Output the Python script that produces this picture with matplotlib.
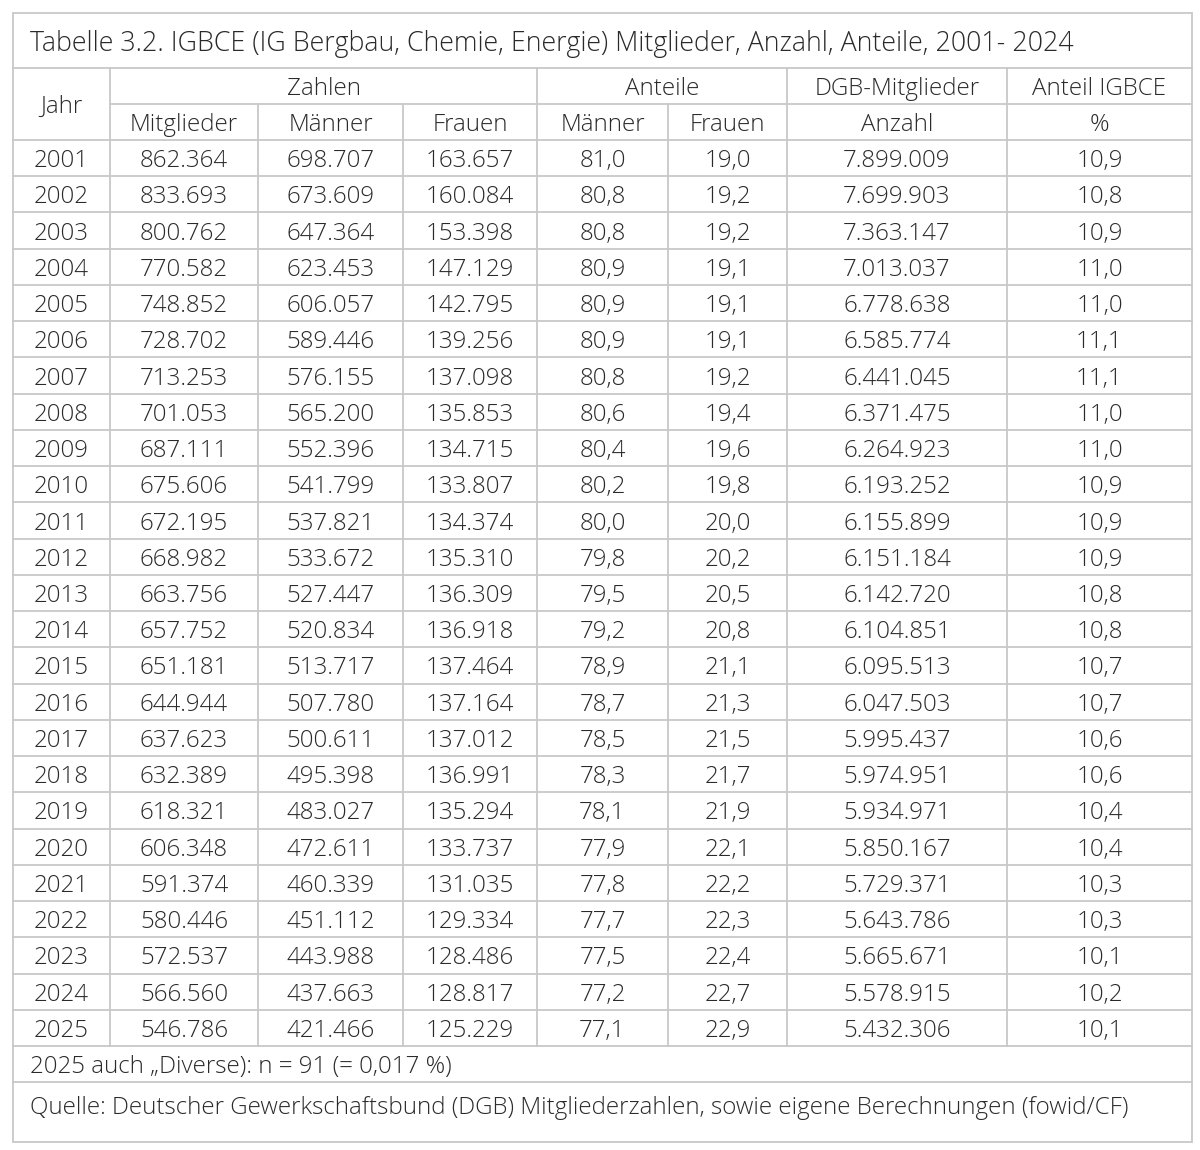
import matplotlib
matplotlib.use("Agg")
import matplotlib.pyplot as plt

years = list(range(2001, 2026))
mitglieder = ["862.364","833.693","800.762","770.582","748.852","728.702","713.253","701.053","687.111","675.606","672.195","668.982","663.756","657.752","651.181","644.944","637.623","632.389","618.321","606.348","591.374","580.446","572.537","566.560","546.786"]
maenner = ["698.707","673.609","647.364","623.453","606.057","589.446","576.155","565.200","552.396","541.799","537.821","533.672","527.447","520.834","513.717","507.780","500.611","495.398","483.027","472.611","460.339","451.112","443.988","437.663","421.466"]
frauen = ["163.657","160.084","153.398","147.129","142.795","139.256","137.098","135.853","134.715","133.807","134.374","135.310","136.309","136.918","137.464","137.164","137.012","136.991","135.294","133.737","131.035","129.334","128.486","128.817","125.229"]
anteil_m = ["81,0","80,8","80,8","80,9","80,9","80,9","80,8","80,6","80,4","80,2","80,0","79,8","79,5","79,2","78,9","78,7","78,5","78,3","78,1","77,9","77,8","77,7","77,5","77,2","77,1"]
anteil_f = ["19,0","19,2","19,2","19,1","19,1","19,1","19,2","19,4","19,6","19,8","20,0","20,2","20,5","20,8","21,1","21,3","21,5","21,7","21,9","22,1","22,2","22,3","22,4","22,7","22,9"]
dgb = ["7.899.009","7.699.903","7.363.147","7.013.037","6.778.638","6.585.774","6.441.045","6.371.475","6.264.923","6.193.252","6.155.899","6.151.184","6.142.720","6.104.851","6.095.513","6.047.503","5.995.437","5.974.951","5.934.971","5.850.167","5.729.371","5.643.786","5.665.671","5.578.915","5.432.306"]
anteil_igbce = ["10,9","10,8","10,9","11,0","11,0","11,1","11,1","11,0","11,0","10,9","10,9","10,9","10,8","10,8","10,7","10,7","10,6","10,6","10,4","10,4","10,3","10,3","10,1","10,2","10,1"]

title = "Tabelle 3.2. IGBCE (IG Bergbau, Chemie, Energie) Mitglieder, Anzahl, Anteile, 2001- 2024"
note = "2025 auch \u201eDiverse): n = 91 (= 0,017 %)"
source = "Quelle: Deutscher Gewerkschaftsbund (DGB) Mitgliederzahlen, sowie eigene Berechnungen (fowid/CF)"

W, H = 1200, 1150
fig = plt.figure(figsize=(12, 11.5), dpi=100)
ax = fig.add_axes([0, 0, 1, 1])
ax.set_xlim(0, W); ax.set_ylim(H, 0); ax.axis("off")
plt.rcParams['font.family'] = ['Open Sans', 'DejaVu Sans']
lc = "#c8c8c8"; tc = "#2a2a2a"; fs = 17.4
lw = 1.3
dy = 3

xs = [13, 110, 258, 403, 537, 668, 787, 1007, 1192]
top, t_end, h1, h2, d0 = 13, 68, 104, 140, 140
rh = (1046 - 140) / 25
d_end = 1046; n_end = 1082; bottom = 1142

def hl(y, x0=13, x1=1192): ax.plot([x0, x1], [y, y], color=lc, lw=lw)
def vl(x, y0, y1): ax.plot([x, x], [y0, y1], color=lc, lw=lw)

ax.add_patch(plt.Rectangle((13, 13), 1179, bottom - 13, fill=False, ec=lc, lw=lw))
hl(t_end); hl(h1, 110); hl(h2)
for i in range(1, 26): hl(d0 + i * rh)
hl(n_end)
for x in [110, 537, 787, 1007]: vl(x, t_end, d_end)
for x in [258, 403, 668]: vl(x, h1, d_end)

def txt(x, y, s, ha="center"): ax.text(x, y + dy, s, ha=ha, va="center", fontsize=fs, color=tc, fontweight="light")

ax.text(30, 41 + dy, title, ha="left", va="center", fontsize=19.3, color=tc, fontweight="light")
cx = [(xs[i] + xs[i + 1]) / 2 for i in range(8)]
txt(cx[0], (t_end + h2) / 2, "Jahr")
txt((110 + 537) / 2, (t_end + h1) / 2, "Zahlen")
txt((537 + 787) / 2, (t_end + h1) / 2, "Anteile")
txt(cx[6], (t_end + h1) / 2, "DGB-Mitglieder")
txt(cx[7], (t_end + h1) / 2, "Anteil IGBCE")
for i, s in enumerate(["Mitglieder", "Männer", "Frauen", "Männer", "Frauen", "Anzahl", "%"]):
    txt(cx[i + 1], (h1 + h2) / 2, s)
cols = [[str(y) for y in years], mitglieder, maenner, frauen, anteil_m, anteil_f, dgb, anteil_igbce]
for r in range(25):
    y = d0 + (r + 0.5) * rh
    for c in range(8):
        txt(cx[c], y, cols[c][r])
txt(30, (d_end + n_end) / 2, note, ha="left")
txt(30, 1105, source, ha="left")
fig.savefig("out.png", dpi=100, facecolor="white")
